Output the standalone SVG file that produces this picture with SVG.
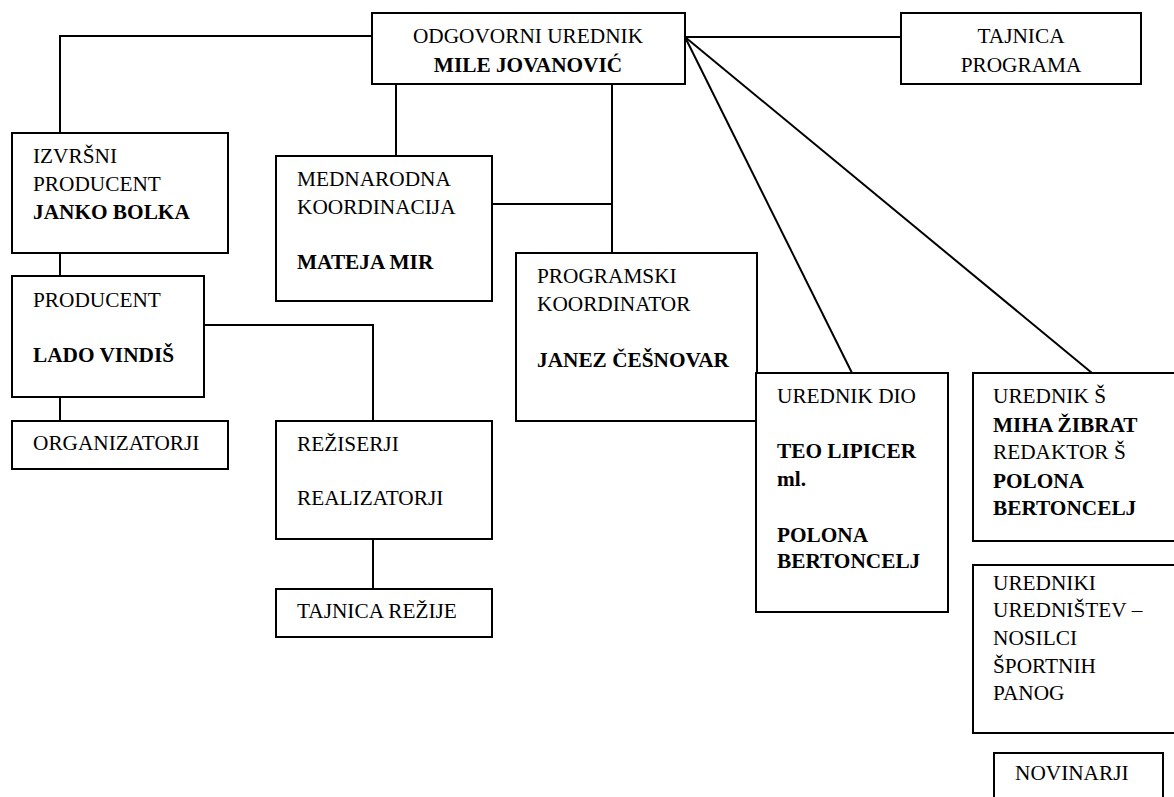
<svg xmlns="http://www.w3.org/2000/svg" width="1174" height="797" viewBox="0 0 1174 797">
<style>
rect{fill:#fff;stroke:#000;stroke-width:2}
.c line,.c polyline{stroke:#000;stroke-width:2;fill:none}
text{font-family:'Liberation Serif',serif;font-size:21.3px;fill:#000}
.b{font-weight:bold}
.m{text-anchor:middle}
</style>
<rect x="0" y="0" width="1174" height="797" style="stroke:none"/>
<g class="c" id="connectors">
<polyline points="372,36 60,36 60,133"/>
<line x1="60" y1="253" x2="60" y2="276"/>
<line x1="60" y1="397" x2="60" y2="421"/>
<polyline points="204,325 373,325 373,421"/>
<line x1="373" y1="539" x2="373" y2="589"/>
<line x1="396" y1="84" x2="396" y2="156"/>
<line x1="612" y1="84" x2="612" y2="253"/>
<line x1="492" y1="204" x2="612" y2="204"/>
<line x1="685" y1="37" x2="901" y2="37"/>
<line x1="685" y1="37" x2="852" y2="373"/>
<line x1="685" y1="37" x2="1092" y2="373"/>
</g>
<g id="odgovorni">
<rect x="372" y="13" width="313" height="71"/>
<text x="528" y="43" class="m">ODGOVORNI UREDNIK</text>
<text x="528" y="72" class="m b">MILE JOVANOVIĆ</text>
</g>
<g id="tajnica-programa">
<rect x="901" y="13" width="240" height="71"/>
<text x="1021" y="43" class="m">TAJNICA</text>
<text x="1021" y="72" class="m">PROGRAMA</text>
</g>
<g id="izvrsni">
<rect x="12" y="133" width="216" height="120"/>
<text x="33" y="163">IZVRŠNI</text>
<text x="33" y="191">PRODUCENT</text>
<text x="33" y="219" class="b">JANKO BOLKA</text>
</g>
<g id="producent">
<rect x="12" y="276" width="192" height="121"/>
<text x="33" y="307">PRODUCENT</text>
<text x="33" y="362" class="b">LADO VINDIŠ</text>
</g>
<g id="organizatorji">
<rect x="12" y="421" width="216" height="48"/>
<text x="33" y="450">ORGANIZATORJI</text>
</g>
<g id="mednarodna">
<rect x="276" y="156" width="216" height="145"/>
<text x="297" y="186">MEDNARODNA</text>
<text x="297" y="214">KOORDINACIJA</text>
<text x="297" y="269" class="b">MATEJA MIR</text>
</g>
<g id="programski">
<rect x="516" y="253" width="241" height="168"/>
<text x="537" y="283">PROGRAMSKI</text>
<text x="537" y="311">KOORDINATOR</text>
<text x="537" y="367" class="b">JANEZ ČEŠNOVAR</text>
</g>
<g id="reziserji">
<rect x="276" y="421" width="216" height="118"/>
<text x="297" y="451">REŽISERJI</text>
<text x="297" y="505">REALIZATORJI</text>
</g>
<g id="tajnica-rezije">
<rect x="276" y="589" width="216" height="48"/>
<text x="297" y="618">TAJNICA REŽIJE</text>
</g>
<g id="urednik-dio">
<rect x="756" y="373" width="192" height="239"/>
<text x="777" y="403">UREDNIK DIO</text>
<text x="777" y="458" class="b">TEO LIPICER</text>
<text x="777" y="486" class="b">ml.</text>
<text x="777" y="542" class="b">POLONA</text>
<text x="777" y="568" class="b">BERTONCELJ</text>
</g>
<g id="urednik-s">
<rect x="973" y="373" width="220" height="168"/>
<text x="993" y="403">UREDNIK Š</text>
<text x="993" y="432" class="b">MIHA ŽIBRAT</text>
<text x="993" y="459">REDAKTOR Š</text>
<text x="993" y="488" class="b">POLONA</text>
<text x="993" y="515" class="b">BERTONCELJ</text>
</g>
<g id="uredniki">
<rect x="973" y="565" width="220" height="168"/>
<text x="993" y="590">UREDNIKI</text>
<text x="993" y="617">UREDNIŠTEV –</text>
<text x="993" y="645">NOSILCI</text>
<text x="993" y="673">ŠPORTNIH</text>
<text x="993" y="700">PANOG</text>
</g>
<g id="novinarji">
<rect x="994" y="753" width="169" height="60"/>
<text x="1015" y="780">NOVINARJI</text>
</g>
</svg>
